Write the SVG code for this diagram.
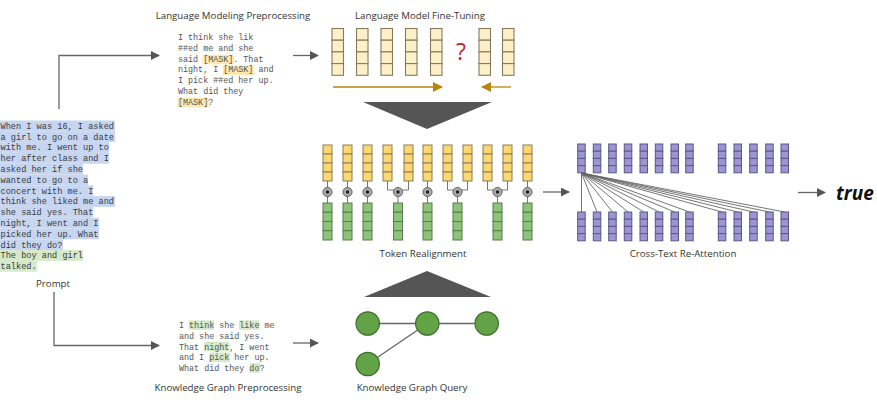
<svg xmlns="http://www.w3.org/2000/svg" xmlns:xlink="http://www.w3.org/1999/xlink" width="877" height="404" viewBox="0 0 877 404">
<style>
.lbl{font-family:"Open Sans","Liberation Sans",sans-serif;font-size:9.7px;fill:#333;text-anchor:middle}
.mono{font-family:"Liberation Mono","Courier New",monospace;font-size:8.4px;fill:#555;white-space:pre}
.pm{font-family:"Liberation Mono","Courier New",monospace;font-size:8.6px;fill:#3a3a3a;white-space:pre}
.conn{fill:none;stroke:#666;stroke-width:1.3}
.gold{fill:none;stroke:#b8860b;stroke-width:1.3}
.thin{fill:none;stroke:#666;stroke-width:0.9}
.cLM rect{fill:#fdf0c8;stroke:#857a5e;stroke-width:1.1}
.cY rect{fill:#fcd772;stroke:#8a7c56;stroke-width:1}
.cG rect{fill:#8cc47a;stroke:#5b7a4f;stroke-width:1}
.cP rect{fill:#9d95d1;stroke:#5d5689;stroke-width:1}
.dot circle.o{fill:#aaa;stroke:#666;stroke-width:1}
.dot circle.i{fill:#222}
.kg{fill:#62a347;stroke:#3f6e2c;stroke-width:1.2}
</style>
<defs>
<marker id="ah" viewBox="0 0 10 10" refX="9" refY="5" markerWidth="9" markerHeight="9" markerUnits="userSpaceOnUse" orient="auto"><path d="M0,0 L10,5 L0,10 z" fill="#555"/></marker>
<marker id="ahg" viewBox="0 0 10 10" refX="9" refY="5" markerWidth="10" markerHeight="10" markerUnits="userSpaceOnUse" orient="auto"><path d="M0,0 L10,5 L0,10 z" fill="#b8860b"/></marker>
<g id="colLM" class="cLM"><rect x="0" y="0" width="11.5" height="11.7"/><rect x="0" y="11.7" width="11.5" height="11.7"/><rect x="0" y="23.4" width="11.5" height="11.7"/><rect x="0" y="35.1" width="11.5" height="11.7"/></g>
<g id="colY" class="cY"><rect x="0" y="0" width="9" height="9"/><rect x="0" y="9" width="9" height="9"/><rect x="0" y="18" width="9" height="9"/><rect x="0" y="27" width="9" height="9"/></g>
<g id="colG" class="cG"><rect x="0" y="0" width="9" height="9.25"/><rect x="0" y="9.25" width="9" height="9.25"/><rect x="0" y="18.5" width="9" height="9.25"/><rect x="0" y="27.75" width="9" height="9.25"/></g>
<g id="colP" class="cP"><rect x="0" y="0" width="7.5" height="7.2"/><rect x="0" y="7.2" width="7.5" height="7.2"/><rect x="0" y="14.4" width="7.5" height="7.2"/><rect x="0" y="21.6" width="7.5" height="7.2"/></g>
<g id="dotc" class="dot"><circle class="o" cx="0" cy="0" r="4.6"/><circle class="i" cx="0" cy="0" r="1.7"/></g>
</defs>

<!-- Prompt -->
<g id="prompt">
<g fill="#c7d6f0">
<rect x="0" y="120.5" width="115" height="10.8"/>
<rect x="0" y="131.3" width="115" height="10.8"/>
<rect x="0" y="142.1" width="109" height="10.8"/>
<rect x="0" y="152.9" width="109" height="10.8"/>
<rect x="0" y="163.7" width="83" height="10.8"/>
<rect x="0" y="174.5" width="88" height="10.8"/>
<rect x="0" y="185.3" width="93" height="10.8"/>
<rect x="0" y="196.1" width="115" height="10.8"/>
<rect x="0" y="206.9" width="93" height="10.8"/>
<rect x="0" y="217.7" width="99" height="10.8"/>
<rect x="0" y="228.5" width="99" height="10.8"/>
<rect x="0" y="239.3" width="63" height="10.8"/>
</g>
<g fill="#d6eacb">
<rect x="0" y="250.1" width="83" height="10.8"/>
<rect x="0" y="260.9" width="37" height="10.8"/>
</g>
<text class="pm" x="0.5" y="128.7">When I was 16, I asked</text>
<text class="pm" x="0.5" y="139.5">a girl to go on a date</text>
<text class="pm" x="0.5" y="150.3">with me. I went up to</text>
<text class="pm" x="0.5" y="161.1">her after class and I</text>
<text class="pm" x="0.5" y="171.9">asked her if she</text>
<text class="pm" x="0.5" y="182.7">wanted to go to a</text>
<text class="pm" x="0.5" y="193.5">concert with me. I</text>
<text class="pm" x="0.5" y="204.3">think she liked me and</text>
<text class="pm" x="0.5" y="215.1">she said yes. That</text>
<text class="pm" x="0.5" y="225.9">night, I went and I</text>
<text class="pm" x="0.5" y="236.7">picked her up. What</text>
<text class="pm" x="0.5" y="247.5">did they do?</text>
<text class="pm" x="0.5" y="258.3">The boy and girl</text>
<text class="pm" x="0.5" y="269.1">talked.</text>
<text class="lbl" x="53" y="286.5">Prompt</text>
</g>

<!-- LM preprocessing -->
<g id="lm-preprocessing">
<text class="lbl" x="233" y="18.5">Language Modeling Preprocessing</text>
<g fill="#fde7b0">
<rect x="202.5" y="54.8" width="31.5" height="9.6"/>
<rect x="222.7" y="65.5" width="31.5" height="9.6"/>
<rect x="177.3" y="97.7" width="31.5" height="9.6"/>
</g>
<text class="mono" x="178" y="40.2">I think she lik</text>
<text class="mono" x="178" y="51">##ed me and she</text>
<text class="mono" x="178" y="61.7">said [MASK]. That</text>
<text class="mono" x="178" y="72.4">night, I [MASK] and</text>
<text class="mono" x="178" y="83.2">I pick ##ed her up.</text>
<text class="mono" x="178" y="93.9">What did they</text>
<text class="mono" x="178" y="104.6">[MASK]?</text>
</g>

<!-- LM fine-tuning -->
<g id="lm-finetuning">
<text class="lbl" x="420" y="18.5">Language Model Fine-Tuning</text>
<use href="#colLM" x="332" y="28.5"/>
<use href="#colLM" x="356.5" y="28.5"/>
<use href="#colLM" x="381" y="28.5"/>
<use href="#colLM" x="405.5" y="28.5"/>
<use href="#colLM" x="430.5" y="28.5"/>
<use href="#colLM" x="479" y="28.5"/>
<use href="#colLM" x="502.5" y="28.5"/>
<text x="461" y="60" font-family="'Open Sans','Liberation Sans',sans-serif" font-size="23" fill="#c8242c" text-anchor="middle">?</text>
<line class="gold" x1="333" y1="87" x2="442" y2="87" marker-end="url(#ahg)"/>
<line class="gold" x1="511" y1="87" x2="482" y2="87" marker-end="url(#ahg)"/>
</g>

<!-- Triangles -->
<g id="merge-down"><polygon points="363,102 492,102 427,129" fill="#555"/></g>
<g id="merge-up"><polygon points="364,297 491,297 427,271" fill="#555"/></g>

<!-- Token realignment -->
<g id="token-realignment">
<use href="#colY" x="323" y="145"/>
<use href="#colY" x="343" y="145"/>
<use href="#colY" x="363" y="145"/>
<use href="#colY" x="383" y="145"/>
<use href="#colY" x="404" y="145"/>
<use href="#colY" x="423" y="145"/>
<use href="#colY" x="443" y="145"/>
<use href="#colY" x="463" y="145"/>
<use href="#colY" x="483" y="145"/>
<use href="#colY" x="503" y="145"/>
<use href="#colY" x="523" y="145"/>
<g class="thin">
<path d="M327.5,181V203M347.5,181V203M367.5,181V203M427.5,181V203M527.5,181V203"/>
<path d="M387.5,181V190H408.5V181M398,190V203"/>
<path d="M447.5,181V190H467.5V181M457.5,190V203"/>
<path d="M487.5,181V190H507.5V181M497.5,190V203"/>
</g>
<use href="#dotc" x="327.5" y="192"/>
<use href="#dotc" x="347.5" y="192"/>
<use href="#dotc" x="367.5" y="192"/>
<use href="#dotc" x="398" y="192"/>
<use href="#dotc" x="427.5" y="192"/>
<use href="#dotc" x="457.5" y="192"/>
<use href="#dotc" x="497.5" y="192"/>
<use href="#dotc" x="527.5" y="192"/>
<use href="#colG" x="323" y="203"/>
<use href="#colG" x="343" y="203"/>
<use href="#colG" x="363" y="203"/>
<use href="#colG" x="393.5" y="203"/>
<use href="#colG" x="423" y="203"/>
<use href="#colG" x="453" y="203"/>
<use href="#colG" x="493" y="203"/>
<use href="#colG" x="523" y="203"/>
<text class="lbl" x="423" y="257">Token Realignment</text>
</g>

<!-- Cross-text re-attention -->
<g id="cross-text">
<g class="thin">
<path d="M581.5,173L581.5,212M581.5,173L597,212M581.5,173L612.5,212M581.5,173L628,212M581.5,173L643.7,212M581.5,173L659,212M581.5,173L674.7,212M581.5,173L689.5,212M581.5,173L722,212M581.5,173L737.7,212M581.5,173L753.5,212M581.5,173L769.5,212M581.5,173L784.7,212"/>
</g>
<use href="#colP" x="577.7" y="144"/>
<use href="#colP" x="593.3" y="144"/>
<use href="#colP" x="608.7" y="144"/>
<use href="#colP" x="624.3" y="144"/>
<use href="#colP" x="640" y="144"/>
<use href="#colP" x="655.3" y="144"/>
<use href="#colP" x="671" y="144"/>
<use href="#colP" x="685.7" y="144"/>
<use href="#colP" x="718.3" y="144"/>
<use href="#colP" x="734" y="144"/>
<use href="#colP" x="749.7" y="144"/>
<use href="#colP" x="765.7" y="144"/>
<use href="#colP" x="781" y="144"/>
<use href="#colP" x="577.7" y="212"/>
<use href="#colP" x="593.3" y="212"/>
<use href="#colP" x="608.7" y="212"/>
<use href="#colP" x="624.3" y="212"/>
<use href="#colP" x="640" y="212"/>
<use href="#colP" x="655.3" y="212"/>
<use href="#colP" x="671" y="212"/>
<use href="#colP" x="685.7" y="212"/>
<use href="#colP" x="718.3" y="212"/>
<use href="#colP" x="734" y="212"/>
<use href="#colP" x="749.7" y="212"/>
<use href="#colP" x="765.7" y="212"/>
<use href="#colP" x="781" y="212"/>
<text class="lbl" x="683" y="256.5">Cross-Text Re-Attention</text>
</g>

<!-- Output -->
<g id="output">
<text x="836" y="199.5" font-family="'Open Sans','Liberation Sans',sans-serif" font-size="19" font-weight="bold" font-style="italic" fill="#111">true</text>
</g>

<!-- KG preprocessing -->
<g id="kg-preprocessing">
<g fill="#d6eacb">
<rect x="188.6" y="320.3" width="25.5" height="9.6"/>
<rect x="239" y="320.3" width="20.5" height="9.6"/>
<rect x="204" y="341.8" width="25.5" height="9.6"/>
<rect x="209.3" y="352.5" width="20.5" height="9.6"/>
<rect x="249.5" y="363.2" width="10.5" height="9.6"/>
</g>
<text class="mono" x="179" y="328">I think she like me</text>
<text class="mono" x="179" y="338.7">and she said yes.</text>
<text class="mono" x="179" y="349.5">That night, I went</text>
<text class="mono" x="179" y="360.2">and I pick her up.</text>
<text class="mono" x="179" y="371">What did they do?</text>
<text class="lbl" x="228" y="391">Knowledge Graph Preprocessing</text>
</g>

<!-- KG query -->
<g id="kg-query">
<g class="conn" stroke-width="1.2">
<line x1="367.7" y1="323.5" x2="486.7" y2="323.5"/>
<line x1="427.3" y1="323.5" x2="367.7" y2="364"/>
</g>
<circle class="kg" cx="367.7" cy="323.5" r="11.7"/>
<circle class="kg" cx="427.3" cy="323.5" r="11.7"/>
<circle class="kg" cx="486.7" cy="323.5" r="11.7"/>
<circle class="kg" cx="367.7" cy="364" r="11.7"/>
<text class="lbl" x="412" y="391">Knowledge Graph Query</text>
</g>

<!-- Connectors -->
<g id="connectors">
<path class="conn" d="M59,109V55.5H159" marker-end="url(#ah)"/>
<path class="conn" d="M54,292V345.5H159" marker-end="url(#ah)"/>
<line class="conn" x1="293" y1="55.5" x2="318" y2="55.5" marker-end="url(#ah)"/>
<line class="conn" x1="293" y1="343" x2="318" y2="343" marker-end="url(#ah)"/>
<line class="conn" x1="543" y1="192" x2="569" y2="192" marker-end="url(#ah)"/>
<line class="conn" x1="798" y1="192.5" x2="825" y2="192.5" marker-end="url(#ah)"/>
</g>
</svg>
